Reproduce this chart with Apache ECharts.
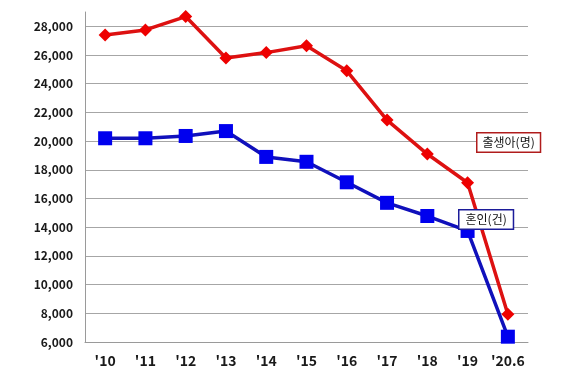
<!DOCTYPE html>
<html>
<head>
<meta charset="utf-8">
<script src="https://cdn.jsdelivr.net/npm/echarts@6/dist/echarts.min.js"></script>
<style>
  html, body { margin: 0; padding: 0; background: #fff; }
  #chart { width: 580px; height: 380px; }
</style>
</head>
<body>
<div id="chart"></div>
<script>
const years = ["'10", "'11", "'12", "'13", "'14", "'15", "'16", "'17", "'18", "'19", "'20.6"];
const births = [27400, 27750, 28680, 25800, 26170, 26650, 24900, 21470, 19100, 17100, 7930];
const marriages = [20200, 20200, 20360, 20700, 18900, 18560, 17130, 15700, 14780, 13740, 6370];
const birthLabel = "출생아(명)";
const marriageLabel = "혼인(건)";

const font = "'Noto Sans CJK KR', 'Noto Sans', sans-serif";
const chart = echarts.init(document.getElementById("chart"));

chart.setOption({
  animation: false,
  grid: { left: 85, right: 52, top: 12, bottom: 38 },
  xAxis: {
    type: "category",
    data: years,
    boundaryGap: true,
    axisLine: { lineStyle: { color: "#9a9a9a", width: 1 } },
    axisTick: { length: 4, lineStyle: { color: "#9a9a9a" } },
    axisLabel: {
      interval: 0,
      color: "#1a1a1a",
      fontFamily: font,
      fontWeight: "bold",
      fontSize: 14,
      margin: 12,
    },
  },
  yAxis: {
    type: "value",
    min: 6000,
    max: 29000,
    interval: 2000,
    axisLine: { show: true, lineStyle: { color: "#9a9a9a", width: 1 } },
    axisTick: { show: false },
    axisLabel: {
      showMaxLabel: false,
      color: "#1a1a1a",
      fontFamily: font,
      fontWeight: "bold",
      fontSize: 12,
      margin: 12,
      formatter: (v) => v.toLocaleString("en-US"),
    },
    splitLine: {
      showMaxLine: false,
      lineStyle: { color: "#a6a6a6", width: 1 },
    },
  },
  series: [
    {
      name: birthLabel,
      type: "line",
      data: births,
      symbol: "diamond",
      symbolSize: 13,
      lineStyle: { color: "#dd1111", width: 3.5 },
      itemStyle: { color: "#ee0000" },
      z: 3,
    },
    {
      name: marriageLabel,
      type: "line",
      data: marriages,
      symbol: "rect",
      symbolSize: 14,
      lineStyle: { color: "#1010bb", width: 3.5 },
      itemStyle: { color: "#0000ee" },
      z: 4,
    },
  ],
  graphic: [
    {
      type: "text",
      left: 476,
      top: 132,
      z: 10,
      style: {
        text: birthLabel,
        font: "12px " + font,
        fill: "#111",
        backgroundColor: "#fff",
        borderColor: "#b01c1c",
        borderWidth: 1.5,
        padding: [3, 5, 3, 5],
      },
    },
    {
      type: "text",
      left: 458,
      top: 209,
      z: 10,
      style: {
        text: marriageLabel,
        font: "12px " + font,
        fill: "#111",
        backgroundColor: "#fff",
        borderColor: "#1c1c9a",
        borderWidth: 1.5,
        padding: [3, 6, 3, 6],
      },
    },
  ],
});
</script>
</body>
</html>
